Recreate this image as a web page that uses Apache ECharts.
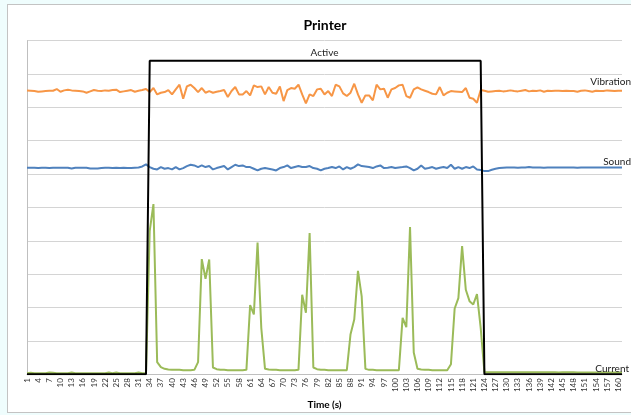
<!DOCTYPE html>
<html><head><meta charset="utf-8">
<script src="https://cdn.jsdelivr.net/npm/echarts@6/dist/echarts.min.js"></script>
<style>
html,body{margin:0;padding:0;background:#effdfd;width:631px;height:415px;overflow:hidden}
#frame{position:absolute;left:7px;top:4px;width:640px;height:407px;background:#fff;border:1px solid #c3c3c3}
#chart{position:absolute;left:0;top:0;width:631px;height:415px}
</style></head><body><div id="frame"></div><div id="chart"></div>
<script>
const FONT = 'Lato, "Open Sans", sans-serif';
const titleText = 'Printer';
const axisName = 'Time (s)';
const seriesNames = ['Current', 'Sound', 'Vibration', 'Active'];

const categories = [];
for (let i = 1; i <= 161; i++) categories.push(String(i));

const current = [
0.03,0.04,0.03,0.03,0.03,0.03,0.05,0.04,0.03,0.03,
0.03,0.03,0.05,0.03,0.03,0.03,0.03,0.03,0.03,0.03,
0.03,0.03,0.05,0.03,0.05,0.03,0.03,0.03,0.03,0.03,
0.05,0.03,0.03,4.3,5.1,0.36,0.21,0.16,0.14,0.13,
0.13,0.13,0.12,0.12,0.12,0.13,0.36,3.45,2.86,3.44,
0.2,0.15,0.13,0.13,0.12,0.12,0.12,0.12,0.12,0.13,
2.07,1.79,3.95,1.39,0.16,0.14,0.13,0.13,0.12,0.12,
0.12,0.12,0.12,0.13,2.38,1.84,4.23,0.2,0.15,0.13,
0.13,0.12,0.12,0.12,0.12,0.12,0.12,1.2,1.64,3.1,
2.33,0.16,0.13,0.13,0.12,0.12,0.12,0.12,0.12,0.12,
0.12,1.69,1.41,4.41,0.65,0.16,0.14,0.13,0.13,0.12,
0.12,0.12,0.12,0.12,0.3,1.97,2.28,3.84,2.53,2.19,
2.09,2.4,1.39,0.06,0.06,0.06,0.06,0.06,0.06,0.06,
0.06,0.06,0.06,0.06,0.06,0.06,0.06,0.06,0.06,0.06,
0.06,0.06,0.06,0.05,0.06,0.06,0.06,0.06,0.05,0.05,
0.05,0.05,0.05,0.05,0.05,0.05,0.05,0.05,0.05,0.05,
0.05
];

const active = [
0,0,0,0,0,0,0,0,0,0,
0,0,0,0,0,0,0,0,0,0,
0,0,0,0,0,0,0,0,0,0,
0,0,0,9.4,9.4,9.4,9.4,9.4,9.4,9.4,
9.4,9.4,9.4,9.4,9.4,9.4,9.4,9.4,9.4,9.4,
9.4,9.4,9.4,9.4,9.4,9.4,9.4,9.4,9.4,9.4,
9.4,9.4,9.4,9.4,9.4,9.4,9.4,9.4,9.4,9.4,
9.4,9.4,9.4,9.4,9.4,9.4,9.4,9.4,9.4,9.4,
9.4,9.4,9.4,9.4,9.4,9.4,9.4,9.4,9.4,9.4,
9.4,9.4,9.4,9.4,9.4,9.4,9.4,9.4,9.4,9.4,
9.4,9.4,9.4,9.4,9.4,9.4,9.4,9.4,9.4,9.4,
9.4,9.4,9.4,9.4,9.4,9.4,9.4,9.4,9.4,9.4,
9.4,9.4,9.4,0,0,0,0,0,0,0,
0,0,0,0,0,0,0,0,0,0,
0,0,0,0,0,0,0,0,0,0,
0,0,0,0,0,0,0,0,0,0,
0
];

const vibration = [
8.51,8.5,8.49,8.47,8.48,8.49,8.5,8.5,8.55,8.47,
8.51,8.53,8.51,8.5,8.49,8.48,8.44,8.48,8.52,8.5,
8.49,8.51,8.5,8.52,8.53,8.46,8.48,8.5,8.52,8.47,
8.5,8.52,8.55,8.46,8.58,8.39,8.44,8.46,8.52,8.39,
8.54,8.68,8.26,8.63,8.68,8.58,8.46,8.58,8.44,8.49,
8.44,8.47,8.49,8.52,8.31,8.49,8.61,8.39,8.39,8.49,
8.36,8.66,8.61,8.63,8.39,8.61,8.44,8.41,8.63,8.19,
8.52,8.58,8.56,8.68,8.39,8.12,8.39,8.34,8.54,8.56,
8.39,8.49,8.34,8.68,8.63,8.42,8.34,8.44,8.71,8.39,
8.14,8.36,8.36,8.21,8.68,8.54,8.56,8.29,8.54,8.58,
8.66,8.68,8.34,8.29,8.54,8.6,8.54,8.5,8.46,8.41,
8.39,8.61,8.36,8.44,8.49,8.48,8.47,8.46,8.58,8.29,
8.26,8.14,8.52,8.5,8.47,8.48,8.49,8.5,8.48,8.49,
8.51,8.49,8.48,8.5,8.52,8.48,8.5,8.49,8.51,8.47,
8.5,8.49,8.5,8.5,8.49,8.5,8.49,8.49,8.47,8.5,
8.51,8.49,8.47,8.5,8.49,8.49,8.51,8.5,8.49,8.5,
8.5
];

const sound = [
6.19,6.19,6.19,6.18,6.19,6.19,6.18,6.19,6.19,6.19,
6.19,6.19,6.17,6.19,6.19,6.19,6.19,6.17,6.17,6.17,
6.18,6.19,6.19,6.18,6.19,6.18,6.19,6.18,6.18,6.19,
6.2,6.23,6.29,6.21,6.16,6.14,6.21,6.16,6.18,6.14,
6.21,6.14,6.18,6.24,6.28,6.26,6.21,6.26,6.21,6.24,
6.14,6.18,6.21,6.24,6.14,6.21,6.28,6.24,6.26,6.21,
6.21,6.16,6.11,6.16,6.18,6.16,6.14,6.11,6.18,6.21,
6.26,6.18,6.21,6.24,6.21,6.21,6.24,6.18,6.16,6.11,
6.16,6.18,6.21,6.18,6.23,6.14,6.21,6.16,6.21,6.29,
6.24,6.23,6.21,6.18,6.23,6.26,6.18,6.19,6.21,6.18,
6.2,6.21,6.23,6.18,6.11,6.16,6.26,6.16,6.18,6.21,
6.16,6.19,6.21,6.18,6.28,6.16,6.21,6.16,6.21,6.18,
6.23,6.14,6.12,6.09,6.09,6.13,6.16,6.18,6.19,6.2,
6.2,6.2,6.19,6.2,6.2,6.21,6.2,6.2,6.2,6.19,
6.2,6.2,6.2,6.2,6.2,6.2,6.2,6.2,6.19,6.2,
6.2,6.2,6.2,6.2,6.2,6.2,6.2,6.2,6.2,6.2,
6.2
];

const activeLabelIndex = 80;
const last = categories.length - 1;

function pointLabel(values, idx, text, opts) {
  return {
    silent: true, animation: false,
    symbol: 'rect', symbolSize: 1,
    itemStyle: {color: 'rgba(0,0,0,0)'},
    data: [{
      coord: [categories[idx], values[idx]],
      label: Object.assign({show: true, formatter: text, fontSize: 10, fontFamily: FONT, color: '#222'}, opts)
    }]
  };
}

function lineSeries(name, data, color, z, markPoint) {
  return {name, type: 'line', data, z, symbol: 'none',
    lineStyle: {color, width: 2}, itemStyle: {color}, animation: false,
    emphasis: {disabled: true}, markPoint};
}

const chart = echarts.init(document.getElementById('chart'), null, {renderer: 'canvas'});
chart.setOption({
  backgroundColor: 'transparent',
  animation: false,
  title: {text: titleText, left: 320, top: 13, textAlign: 'center',
    textStyle: {fontSize: 14, fontWeight: 'bold', color: '#000', fontFamily: FONT}},
  grid: {left: 27, right: 9, top: 40.7, bottom: 37.7, containLabel: false},
  xAxis: {type: 'category', data: categories, boundaryGap: false,
    axisLine: {show: true, lineStyle: {color: '#bfbfbf', width: 1}},
    axisTick: {show: false},
    axisLabel: {interval: 2, rotate: 90, fontSize: 8, margin: 4, color: '#333', fontFamily: FONT},
    splitLine: {show: false},
    name: axisName, nameLocation: 'middle', nameGap: 21,
    nameTextStyle: {fontSize: 10, fontWeight: 'bold', color: '#000', fontFamily: FONT}},
  yAxis: {type: 'value', min: 0, max: 10, interval: 1,
    axisLabel: {show: false}, axisTick: {show: false},
    axisLine: {show: true, lineStyle: {color: '#bfbfbf', width: 1}},
    splitLine: {show: true, lineStyle: {color: '#d4d4d4', width: 1}}},
  series: [
    lineSeries(seriesNames[0], current, '#9bbb59', 2,
      pointLabel(current, last, seriesNames[0], {position: 'top', align: 'right', distance: -2, offset: [7, 0]})),
    lineSeries(seriesNames[1], sound, '#4f81bd', 3,
      pointLabel(sound, last, seriesNames[1], {position: 'top', align: 'right', distance: 0, offset: [9, 0]})),
    lineSeries(seriesNames[2], vibration, '#f79646', 4,
      pointLabel(vibration, last, seriesNames[2], {position: 'top', align: 'right', distance: 3, offset: [9, 0]})),
    lineSeries(seriesNames[3], active, '#000000', 5,
      pointLabel(active, activeLabelIndex, seriesNames[3], {position: 'top', distance: 2}))
  ]
});
</script></body></html>
